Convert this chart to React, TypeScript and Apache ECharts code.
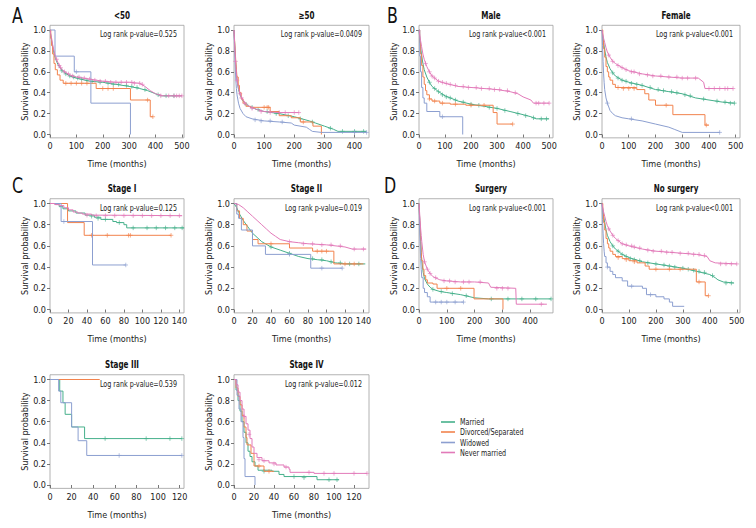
import React, { useEffect, useRef } from 'react';
import * as echarts from 'echarts';

const FONT = "'Liberation Sans Narrow', 'DejaVu Sans Condensed', 'Arial Narrow', sans-serif";

const groupNames = ['Married', 'Divorced/Separated', 'Widowed', 'Never married'];
const groupColors = ['#46b08b', '#f2834d', '#8c9fd0', '#e27ab9'];

const ticks500 = [0, 100, 200, 300, 400, 500];
const ticks400 = [0, 100, 200, 300, 400];
const ticks140 = [0, 20, 40, 60, 80, 100, 120, 140];
const ticks120 = [0, 20, 40, 60, 80, 100, 120];
const yTicks = [0, 0.2, 0.4, 0.6, 0.8, 1.0];

// ---- <50 ----
const lt50Married = [[0,1],[3,0.95],[6,0.9],[10,0.84],[15,0.78],[20,0.73],[30,0.67],[40,0.63],[50,0.6],[75,0.56],[100,0.54],[150,0.51],[200,0.5],[250,0.48],[300,0.46],[340,0.44],[370,0.42],[400,0.39],[420,0.37],[500,0.37]];
const lt50Divorced = [[0,1],[3,0.92],[6,0.85],[10,0.77],[15,0.68],[20,0.62],[28,0.57],[38,0.52],[50,0.49],[175,0.44],[305,0.33],[380,0.17],[390,0.17]];
const lt50Widowed = [[0,1],[19,0.75],[92,0.6],[155,0.3],[305,0]];
const lt50Never = [[0,1],[3,0.96],[6,0.92],[10,0.86],[15,0.8],[20,0.75],[30,0.69],[40,0.64],[50,0.61],[75,0.57],[100,0.55],[150,0.53],[200,0.51],[250,0.5],[300,0.5],[340,0.49],[360,0.46],[380,0.42],[400,0.39],[430,0.37],[500,0.37]];
const lt50MarriedCens = [[45,0.61],[60,0.58],[75,0.56],[90,0.55],[105,0.54],[120,0.53],[140,0.52],[160,0.51],[190,0.5],[220,0.49],[240,0.48],[260,0.48],[290,0.47],[310,0.46],[330,0.45],[360,0.43],[410,0.38],[440,0.37],[470,0.37]];
const lt50DivorcedCens = [[60,0.49],[80,0.49],[100,0.49],[120,0.49],[140,0.49],[200,0.44],[220,0.44],[240,0.44],[370,0.33],[390,0.17]];
const lt50WidowedCens = [[100,0.6]];
const lt50NeverCens = [[25,0.72],[35,0.66],[40,0.64],[55,0.6],[70,0.58],[85,0.56],[110,0.55],[130,0.54],[150,0.53],[170,0.52],[190,0.51],[210,0.51],[230,0.5],[250,0.5],[270,0.5],[290,0.5],[310,0.5],[320,0.49],[340,0.49],[350,0.48],[420,0.37],[450,0.37],[470,0.37],[480,0.37],[490,0.37],[500,0.37]];

// ---- >=50 ----
const ge50Married = [[0,1],[2,0.88],[4,0.77],[6,0.67],[8,0.58],[10,0.52],[15,0.43],[20,0.38],[30,0.32],[40,0.29],[50,0.27],[75,0.24],[100,0.22],[150,0.2],[200,0.17],[250,0.13],[270,0.11],[300,0.08],[330,0.05],[345,0.03],[440,0.03]];
const ge50Divorced = [[0,1],[2,0.9],[4,0.8],[6,0.7],[8,0.62],[10,0.55],[14,0.47],[18,0.4],[24,0.34],[30,0.3],[40,0.27],[55,0.26],[120,0.22],[150,0.18],[190,0.16],[220,0.12],[262,0.08],[290,0]];
const ge50Widowed = [[0,1],[2,0.82],[4,0.65],[6,0.52],[8,0.44],[10,0.38],[15,0.3],[20,0.25],[30,0.2],[40,0.17],[60,0.15],[100,0.13],[150,0.12],[190,0.11],[200,0.09],[240,0.07],[250,0.05],[260,0.03],[290,0.02],[440,0.02]];
const ge50Never = [[0,1],[2,0.88],[4,0.76],[6,0.66],[8,0.58],[10,0.52],[15,0.44],[20,0.39],[30,0.33],[40,0.29],[50,0.27],[75,0.24],[100,0.22],[150,0.21],[215,0.21]];
const ge50MarriedCens = [[40,0.29],[60,0.26],[80,0.24],[110,0.22],[140,0.2],[180,0.18],[220,0.15],[260,0.12],[320,0.06],[360,0.03],[400,0.03],[430,0.03]];
const ge50DivorcedCens = [[100,0.26],[110,0.26],[115,0.26],[230,0.12]];
const ge50WidowedCens = [[70,0.14],[90,0.13],[120,0.13],[160,0.12],[400,0.02],[440,0.02]];
const ge50NeverCens = [[5,0.7],[10,0.52],[20,0.39],[25,0.35],[35,0.3],[60,0.25],[90,0.22],[120,0.21],[150,0.21],[170,0.21],[200,0.21],[215,0.21]];

// ---- Male ----
const maleMarried = [[0,1],[3,0.92],[6,0.84],[10,0.76],[15,0.68],[20,0.62],[30,0.55],[40,0.5],[50,0.46],[75,0.41],[100,0.37],[150,0.32],[200,0.29],[250,0.27],[300,0.25],[350,0.22],[400,0.19],[430,0.17],[450,0.15],[500,0.15]];
const maleDivorced = [[0,1],[3,0.88],[6,0.77],[10,0.66],[15,0.55],[20,0.48],[25,0.42],[30,0.38],[40,0.34],[50,0.32],[80,0.3],[120,0.29],[180,0.28],[285,0.21],[300,0.1],[360,0.1]];
const maleWidowed = [[0,1],[3,0.75],[6,0.6],[10,0.45],[15,0.35],[20,0.3],[30,0.22],[80,0.17],[168,0]];
const maleNever = [[0,1],[3,0.95],[6,0.9],[10,0.84],[15,0.77],[20,0.72],[30,0.65],[40,0.6],[50,0.56],[75,0.51],[100,0.49],[150,0.46],[200,0.45],[250,0.44],[300,0.43],[350,0.41],[380,0.39],[400,0.36],[430,0.33],[440,0.3],[500,0.3]];
const maleMarriedCens = [[40,0.5],[60,0.44],[75,0.41],[90,0.38],[105,0.36],[120,0.35],[140,0.33],[170,0.31],[200,0.29],[230,0.28],[270,0.26],[300,0.25],[330,0.23],[380,0.2],[410,0.18],[440,0.16],[470,0.15],[490,0.15]];
const maleDivorcedCens = [[40,0.34],[60,0.32],[90,0.3],[140,0.29],[200,0.28],[250,0.28],[360,0.1]];
const maleWidowedCens = [[90,0.17]];
const maleNeverCens = [[25,0.68],[40,0.6],[50,0.56],[60,0.54],[75,0.51],[90,0.5],[105,0.49],[120,0.48],[140,0.47],[170,0.46],[190,0.45],[220,0.45],[240,0.44],[270,0.44],[290,0.43],[310,0.43],[340,0.42],[370,0.4],[450,0.3],[460,0.3],[480,0.3],[500,0.3]];

// ---- Female ----
const femaleMarried = [[0,1],[3,0.94],[6,0.88],[10,0.81],[15,0.74],[20,0.69],[30,0.63],[40,0.59],[50,0.56],[75,0.52],[100,0.5],[150,0.47],[200,0.43],[250,0.41],[300,0.39],[350,0.35],[400,0.33],[450,0.31],[495,0.3]];
const femaleDivorced = [[0,1],[3,0.9],[6,0.82],[10,0.74],[15,0.65],[20,0.6],[25,0.55],[30,0.52],[40,0.48],[50,0.45],[130,0.43],[160,0.39],[175,0.33],[200,0.28],[265,0.19],[385,0.09],[400,0.09]];
const femaleWidowed = [[0,1],[2,0.85],[4,0.7],[6,0.58],[8,0.5],[10,0.43],[15,0.35],[20,0.3],[30,0.23],[40,0.2],[50,0.18],[75,0.16],[100,0.15],[150,0.13],[200,0.1],[250,0.07],[270,0.05],[300,0.02],[440,0.02]];
const femaleNever = [[0,1],[3,0.96],[6,0.92],[10,0.88],[15,0.83],[20,0.79],[30,0.74],[40,0.7],[50,0.68],[75,0.64],[100,0.61],[150,0.58],[200,0.56],[250,0.55],[300,0.54],[360,0.54],[380,0.5],[385,0.44],[490,0.44]];
const femaleMarriedCens = [[40,0.59],[60,0.54],[75,0.52],[90,0.51],[110,0.49],[130,0.48],[150,0.47],[180,0.45],[210,0.43],[230,0.42],[260,0.41],[280,0.4],[310,0.38],[330,0.37],[380,0.34],[430,0.32],[460,0.31],[480,0.3],[495,0.3]];
const femaleDivorcedCens = [[60,0.45],[80,0.44],[100,0.44],[120,0.44],[240,0.28],[390,0.09]];
const femaleWidowedCens = [[20,0.3],[110,0.15],[440,0.02]];
const femaleNeverCens = [[25,0.76],[40,0.7],[60,0.66],[75,0.64],[90,0.62],[110,0.6],[120,0.6],[140,0.58],[170,0.57],[190,0.56],[220,0.56],[250,0.55],[280,0.55],[300,0.54],[320,0.54],[350,0.54],[400,0.44],[420,0.44],[440,0.44],[460,0.44],[470,0.44],[490,0.44]];

// ---- Stage I ----
const s1Married = [[0,1],[6,0.99],[10,0.97],[14,0.95],[20,0.93],[28,0.91],[38,0.89],[48,0.87],[55,0.85],[68,0.83],[72,0.82],[80,0.8],[83,0.77],[145,0.77]];
const s1Divorced = [[0,1],[19,0.82],[37,0.7],[131,0.7]];
const s1Widowed = [[0,1],[12,0.83],[46,0.42],[82,0.42]];
const s1Never = [[0,1],[5,0.99],[10,0.98],[15,0.96],[20,0.94],[25,0.92],[30,0.91],[35,0.9],[45,0.89],[60,0.885],[143,0.885]];
const s1MarriedCens = [[45,0.88],[52,0.86],[60,0.85],[75,0.82],[90,0.77],[105,0.77],[115,0.77],[125,0.77],[135,0.77],[143,0.77]];
const s1DivorcedCens = [[45,0.7],[62,0.7],[85,0.7],[87,0.7],[131,0.7]];
const s1WidowedCens = [[15,0.83],[82,0.42]];
const s1NeverCens = [[40,0.89],[50,0.885],[60,0.885],[70,0.885],[80,0.885],[90,0.885],[100,0.885],[110,0.885],[120,0.885],[130,0.885],[140,0.885]];

// ---- Stage II ----
const s2Married = [[0,1],[3,0.96],[6,0.9],[10,0.84],[15,0.78],[20,0.72],[25,0.68],[30,0.64],[40,0.59],[50,0.56],[60,0.53],[70,0.5],[80,0.48],[90,0.47],[100,0.46],[110,0.44],[120,0.43],[142,0.43]];
const s2Divorced = [[0,1],[3,0.93],[6,0.86],[10,0.8],[14,0.74],[20,0.66],[26,0.62],[60,0.58],[85,0.55],[108,0.43],[140,0.43]];
const s2Widowed = [[0,1],[3,0.9],[5,0.86],[8,0.75],[20,0.6],[34,0.52],[83,0.39],[117,0.39]];
const s2Never = [[0,1],[5,0.99],[10,0.96],[15,0.92],[20,0.88],[25,0.84],[30,0.8],[35,0.76],[40,0.72],[45,0.69],[50,0.66],[60,0.64],[70,0.63],[80,0.62],[100,0.61],[120,0.59],[128,0.57],[143,0.57]];
const s2MarriedCens = [[40,0.59],[60,0.53],[85,0.48],[95,0.47],[105,0.45],[115,0.44],[125,0.43],[135,0.43]];
const s2DivorcedCens = [[40,0.62],[90,0.55],[95,0.55],[100,0.55],[120,0.43],[130,0.43]];
const s2WidowedCens = [[60,0.52],[95,0.39],[117,0.39]];
const s2NeverCens = [[60,0.64],[75,0.62],[85,0.62],[95,0.61],[105,0.61],[115,0.6],[130,0.57],[140,0.57]];

// ---- Surgery ----
const surgMarried = [[0,1],[2,0.88],[4,0.76],[6,0.64],[8,0.54],[10,0.46],[15,0.35],[20,0.29],[30,0.24],[40,0.21],[50,0.19],[75,0.17],[100,0.16],[150,0.14],[200,0.11],[250,0.1],[475,0.1]];
const surgDivorced = [[0,1],[2,0.88],[4,0.76],[6,0.64],[8,0.54],[10,0.46],[14,0.38],[18,0.32],[24,0.28],[30,0.25],[50,0.24],[65,0.2],[198,0.1],[302,0]];
const surgWidowed = [[0,1],[2,0.8],[4,0.62],[6,0.48],[8,0.38],[10,0.3],[15,0.2],[20,0.16],[30,0.12],[40,0.07],[160,0.07]];
const surgNever = [[0,1],[2,0.92],[4,0.84],[6,0.76],[8,0.7],[10,0.64],[15,0.52],[20,0.45],[30,0.38],[40,0.34],[50,0.31],[75,0.28],[100,0.27],[150,0.26],[200,0.26],[250,0.25],[258,0.21],[348,0.2],[350,0.05],[460,0.05]];
const surgMarriedCens = [[50,0.19],[80,0.17],[120,0.15],[170,0.13],[260,0.1],[320,0.1],[370,0.1],[420,0.1],[475,0.1]];
const surgDivorcedCens = [[100,0.2],[150,0.2]];
const surgWidowedCens = [[60,0.07],[80,0.07],[100,0.07],[130,0.07],[160,0.07]];
const surgNeverCens = [[20,0.45],[30,0.38],[40,0.34],[60,0.3],[90,0.27],[110,0.27],[130,0.26],[160,0.26],[180,0.26],[220,0.26],[280,0.2],[300,0.2],[320,0.2],[440,0.05]];

// ---- No surgery ----
const nsMarried = [[0,1],[3,0.94],[6,0.88],[10,0.82],[15,0.75],[20,0.7],[30,0.64],[40,0.6],[50,0.57],[75,0.52],[100,0.49],[150,0.45],[200,0.43],[250,0.41],[300,0.39],[350,0.36],[400,0.33],[420,0.3],[430,0.28],[450,0.26],[490,0.25]];
const nsDivorced = [[0,1],[3,0.9],[6,0.82],[10,0.75],[15,0.67],[20,0.62],[25,0.58],[30,0.55],[40,0.52],[50,0.5],[75,0.48],[100,0.46],[130,0.44],[160,0.41],[175,0.38],[350,0.26],[383,0.13],[395,0.13]];
const nsWidowed = [[0,1],[2,0.85],[4,0.72],[6,0.62],[8,0.55],[10,0.5],[15,0.44],[20,0.4],[30,0.36],[40,0.33],[50,0.3],[75,0.27],[95,0.22],[150,0.2],[165,0.14],[200,0.12],[230,0.1],[250,0.07],[262,0.03],[305,0.03]];
const nsNever = [[0,1],[3,0.96],[6,0.92],[10,0.88],[15,0.83],[20,0.79],[30,0.74],[40,0.7],[50,0.67],[75,0.62],[100,0.6],[150,0.57],[200,0.55],[250,0.54],[300,0.53],[350,0.52],[390,0.5],[400,0.46],[420,0.44],[500,0.43]];
const nsMarriedCens = [[40,0.6],[60,0.55],[75,0.52],[90,0.5],[105,0.48],[120,0.47],[140,0.46],[170,0.44],[200,0.43],[230,0.42],[250,0.41],[270,0.4],[300,0.39],[320,0.38],[340,0.37],[360,0.36],[380,0.35],[410,0.32],[460,0.25],[480,0.25]];
const nsDivorcedCens = [[60,0.49],[90,0.47],[120,0.45],[200,0.38],[250,0.38],[290,0.38],[360,0.26],[395,0.13]];
const nsWidowedCens = [[20,0.4],[110,0.22],[180,0.14]];
const nsNeverCens = [[25,0.76],[40,0.7],[60,0.65],[75,0.62],[90,0.61],[110,0.6],[120,0.59],[140,0.58],[170,0.56],[190,0.55],[220,0.55],[240,0.54],[260,0.54],[290,0.53],[320,0.53],[340,0.52],[360,0.52],[380,0.51],[440,0.43],[460,0.43],[480,0.43],[500,0.43]];

// ---- Stage III ----
const s3Married = [[0,1],[9,0.89],[12,0.78],[14,0.67],[20,0.55],[32,0.44],[122,0.44]];
const s3Divorced = [[0,1],[46,1]];
const s3Widowed = [[0,1],[8,0.89],[10,0.78],[20,0.55],[26,0.42],[34,0.28],[122,0.28]];
const s3MarriedCens = [[51,0.44],[89,0.44],[111,0.44],[122,0.44]];
const s3WidowedCens = [[64,0.28],[122,0.28]];

// ---- Stage IV ----
const s4Married = [[0,1],[2,0.9],[4,0.8],[6,0.7],[8,0.6],[10,0.5],[12,0.4],[14,0.32],[16,0.27],[18,0.22],[21,0.18],[24,0.14],[38,0.13],[45,0.1],[50,0.08],[83,0.05],[105,0.05]];
const s4Divorced = [[0,1],[2,0.92],[4,0.84],[6,0.76],[8,0.66],[10,0.55],[12,0.45],[13,0.38],[17,0.3],[20,0.18],[30,0.13],[40,0.13]];
const s4Widowed = [[0,1],[3,0.85],[5,0.72],[7,0.6],[9,0.45],[10,0.25],[11,0.08],[21,0]];
const s4Never = [[0,1],[2,0.95],[4,0.88],[6,0.8],[8,0.72],[10,0.65],[12,0.58],[14,0.52],[16,0.44],[18,0.36],[20,0.3],[23,0.26],[28,0.23],[35,0.21],[42,0.19],[50,0.17],[55,0.15],[56,0.12],[80,0.11],[133,0.11]];
const s4MarriedCens = [[30,0.13],[60,0.08],[70,0.07],[95,0.05],[103,0.05]];
const s4DivorcedCens = [[25,0.18],[35,0.13]];
const s4NeverCens = [[10,0.65],[15,0.48],[25,0.24],[30,0.23],[40,0.2],[52,0.17],[75,0.12],[90,0.11],[100,0.11],[120,0.11],[133,0.11]];

const COLS = [{ l: 50, r: 184 }, { l: 234, r: 369 }, { l: 419, r: 553 }, { l: 602, r: 740 }];
const ROWS = [{ y1: 30, y0: 134.5 }, { y1: 203.5, y0: 309.5 }, { y1: 379.5, y0: 485 }];
const YMAX = 1.045;
const YMIN = -0.032;
const NARROW = 0.75;

type Panel = {
  title: string; pval: string; col: number; row: number; xmax: number; xticks: number[];
  curves: (number[][] | null)[]; censors: (number[][] | null)[]; steps: boolean[];
};

const panels: Panel[] = [
  { title: '<50', pval: 'Log rank p-value=0.525', col: 0, row: 0, xmax: 508, xticks: ticks500,
    curves: [lt50Married, lt50Divorced, lt50Widowed, lt50Never], censors: [lt50MarriedCens, lt50DivorcedCens, lt50WidowedCens, lt50NeverCens], steps: [false, true, true, false] },
  { title: '≥50', pval: 'Log rank p-value=0.0409', col: 1, row: 0, xmax: 448, xticks: ticks400,
    curves: [ge50Married, ge50Divorced, ge50Widowed, ge50Never], censors: [ge50MarriedCens, ge50DivorcedCens, ge50WidowedCens, ge50NeverCens], steps: [false, true, false, false] },
  { title: 'Male', pval: 'Log rank p-value<0.001', col: 2, row: 0, xmax: 515, xticks: ticks500,
    curves: [maleMarried, maleDivorced, maleWidowed, maleNever], censors: [maleMarriedCens, maleDivorcedCens, maleWidowedCens, maleNeverCens], steps: [false, true, true, false] },
  { title: 'Female', pval: 'Log rank p-value<0.001', col: 3, row: 0, xmax: 516, xticks: ticks500,
    curves: [femaleMarried, femaleDivorced, femaleWidowed, femaleNever], censors: [femaleMarriedCens, femaleDivorcedCens, femaleWidowedCens, femaleNeverCens], steps: [false, true, false, false] },
  { title: 'Stage I', pval: 'Log rank p-value=0.125', col: 0, row: 1, xmax: 145, xticks: ticks140,
    curves: [s1Married, s1Divorced, s1Widowed, s1Never], censors: [s1MarriedCens, s1DivorcedCens, s1WidowedCens, s1NeverCens], steps: [true, true, true, true] },
  { title: 'Stage II', pval: 'Log rank p-value=0.019', col: 1, row: 1, xmax: 146, xticks: ticks140,
    curves: [s2Married, s2Divorced, s2Widowed, s2Never], censors: [s2MarriedCens, s2DivorcedCens, s2WidowedCens, s2NeverCens], steps: [false, true, true, false] },
  { title: 'Surgery', pval: 'Log rank p-value<0.001', col: 2, row: 1, xmax: 482, xticks: ticks400,
    curves: [surgMarried, surgDivorced, surgWidowed, surgNever], censors: [surgMarriedCens, surgDivorcedCens, surgWidowedCens, surgNeverCens], steps: [false, true, true, false] },
  { title: 'No surgery', pval: 'Log rank p-value<0.001', col: 3, row: 1, xmax: 512, xticks: ticks500,
    curves: [nsMarried, nsDivorced, nsWidowed, nsNever], censors: [nsMarriedCens, nsDivorcedCens, nsWidowedCens, nsNeverCens], steps: [false, true, true, false] },
  { title: 'Stage III', pval: 'Log rank p-value=0.539', col: 0, row: 2, xmax: 124, xticks: ticks120,
    curves: [s3Married, s3Divorced, s3Widowed, null], censors: [s3MarriedCens, null, s3WidowedCens, null], steps: [true, true, true, true] },
  { title: 'Stage IV', pval: 'Log rank p-value=0.012', col: 1, row: 2, xmax: 135, xticks: ticks120,
    curves: [s4Married, s4Divorced, s4Widowed, s4Never], censors: [s4MarriedCens, s4DivorcedCens, null, s4NeverCens], steps: [true, true, true, true] },
];

const panelLetters = [
  { t: 'A', x: 12, y: 5 }, { t: 'B', x: 387, y: 5 }, { t: 'C', x: 12, y: 175 }, { t: 'D', x: 384, y: 175 },
];

function buildOption() {
  const grid: any[] = [];
  const xAxis: any[] = [];
  const yAxis: any[] = [];
  const series: any[] = [];
  const graphic: any[] = [];
  const txt = { fontFamily: FONT, color: '#222' };

  panels.forEach((p, i) => {
    const c = COLS[p.col];
    const r = ROWS[p.row];
    const h = r.y0 - r.y1;
    const top = r.y1 - (YMAX - 1) * h;
    const height = (YMAX - YMIN) * h;
    grid.push({ left: c.l, top, width: c.r - c.l, height, show: true, borderColor: '#a0a0a0', borderWidth: 0.8, backgroundColor: 'transparent' });
    xAxis.push({
      gridIndex: i, type: 'value', min: 0, max: p.xmax,
      axisLine: { show: false },
      axisTick: { show: true, length: 3, lineStyle: { color: '#555', width: 0.8 }, customValues: p.xticks },
      axisLabel: { customValues: p.xticks, fontSize: 9, margin: 4, ...txt },
      splitLine: { show: false },
      name: 'Time (months)', nameLocation: 'middle', nameGap: 22,
      nameTextStyle: { fontSize: 9, ...txt },
    });
    yAxis.push({
      gridIndex: i, type: 'value', min: YMIN, max: YMAX,
      axisLine: { show: false },
      axisTick: { show: true, length: 3, lineStyle: { color: '#555', width: 0.8 }, customValues: yTicks },
      axisLabel: { customValues: yTicks, fontSize: 9, margin: 4, formatter: (v: number) => v.toFixed(1), ...txt },
      splitLine: { show: false },
      name: 'Survival probability', nameLocation: 'middle', nameGap: 21,
      nameTextStyle: { fontSize: 9, ...txt },
    });
    p.curves.forEach((d, k) => {
      if (!d) return;
      series.push({
        type: 'line', name: groupNames[k], xAxisIndex: i, yAxisIndex: i, data: d,
        step: p.steps[k] ? 'end' : false, symbol: 'none', showSymbol: false, silent: true,
        lineStyle: { width: 1, color: groupColors[k] }, itemStyle: { color: groupColors[k] }, z: 2 + k,
      });
    });
    p.censors.forEach((d, k) => {
      if (!d) return;
      series.push({
        type: 'scatter', name: groupNames[k] + ' censored', xAxisIndex: i, yAxisIndex: i, data: d,
        symbol: 'path://M0,5L10,5M5,0L5,10', symbolSize: 4.5, silent: true,
        itemStyle: { color: 'rgba(0,0,0,0)', borderColor: groupColors[k], borderWidth: 0.8 }, z: 2 + k,
      });
    });
    graphic.push({
      type: 'text', x: (c.l + c.r) / 2 + 5, y: r.y1 - 14.5, scaleX: 0.8,
      style: { text: p.title, fontFamily: FONT, fontSize: 10, fontWeight: 'bold', fill: '#111', textAlign: 'center', textVerticalAlign: 'middle' },
    });
    graphic.push({
      type: 'text', x: c.r - 7, y: r.y1 + 4, scaleX: NARROW,
      style: { text: p.pval, fontFamily: FONT, fontSize: 9.5, fill: '#222', textAlign: 'right', textVerticalAlign: 'middle' },
    });
  });

  panelLetters.forEach((L) => {
    graphic.push({ type: 'text', x: L.x, y: L.y, scaleX: 0.8, style: { text: L.t, fontFamily: FONT, fontSize: 22, fill: '#111' } });
  });

  // legend (drawn as key lines and labels)
  const legendX = 441;
  const legendY = [422, 432, 442.5, 452.5];
  groupNames.forEach((n, k) => {
    graphic.push({ type: 'line', shape: { x1: legendX, y1: legendY[k], x2: legendX + 14, y2: legendY[k] }, style: { stroke: groupColors[k], lineWidth: 1.6 } });
    graphic.push({ type: 'text', x: legendX + 19, y: legendY[k], scaleX: NARROW, style: { text: n, fontFamily: FONT, fontSize: 9.5, fill: '#222', textVerticalAlign: 'middle' } });
  });

  return {
    animation: false,
    backgroundColor: '#fff',
    textStyle: { fontFamily: FONT },
    grid, xAxis, yAxis, series, graphic,
  };
}

export default function App() {
  const ref = useRef<HTMLDivElement>(null);
  useEffect(() => {
    if (!ref.current) return;
    const chart = echarts.init(ref.current, undefined, { renderer: 'svg' });
    chart.setOption(buildOption() as any);
    return () => chart.dispose();
  }, []);
  return <div ref={ref} style={{ position: 'fixed', left: 0, top: 0, width: 756, height: 528, background: '#fff' }} />;
}
